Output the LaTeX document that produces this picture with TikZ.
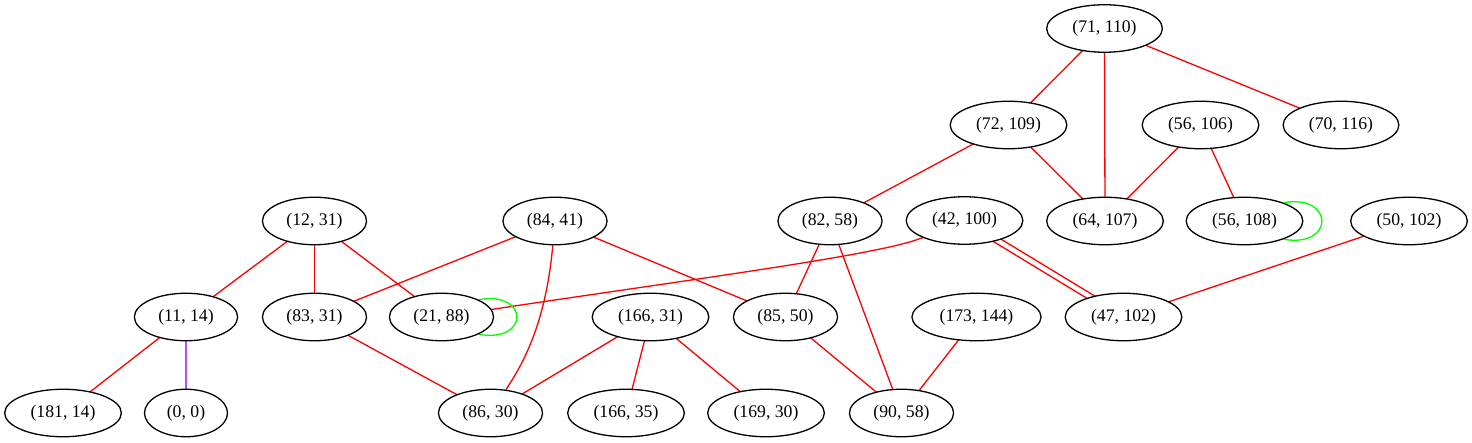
\documentclass[tikz,border=0pt]{standalone}
\usepackage{fontspec}
\setmainfont{Liberation Serif}
\usetikzlibrary{shapes.geometric,calc,backgrounds}
\definecolor{edgered}{HTML}{FF0000}
\definecolor{loopgreen}{HTML}{00FF00}
\definecolor{edgepurple}{HTML}{B050F0}
\tikzset{
  gnode/.style={ellipse, draw=black, line width=1.3pt, fill=white,
    inner xsep=8.8pt, inner ysep=0pt, minimum height=47.5pt, minimum width=83pt,
    font=\fontsize{17.7}{20}\selectfont},
  redge/.style={draw=edgered, line width=1.3pt},
  gloop/.style={draw=loopgreen, line width=1.3pt},
  pedge/.style={draw=edgepurple, line width=1.3pt}
}
\begin{document}
\begin{tikzpicture}[x=1pt,y=-1pt]
\useasboundingbox (0,0) rectangle (1472,443);
\node[gnode] (n71110) at (1104.5,28.5) {(71, 110)};
\node[gnode] (n72109) at (1008.5,125) {(72, 109)};
\node[gnode] (n56106) at (1200.5,125) {(56, 106)};
\node[gnode] (n70116) at (1341,125) {(70, 116)};
\node[gnode] (n1231) at (314.5,221) {(12, 31)};
\node[gnode] (n8441) at (555,221) {(84, 41)};
\node[gnode] (n8258) at (830,221) {(82, 58)};
\node[gnode] (n42100) at (964.5,220.5) {(42, 100)};
\node[gnode] (n64107) at (1105,221) {(64, 107)};
\node[gnode] (n56108) at (1244.5,221) {(56, 108)};
\node[gnode] (n50102) at (1409,221) {(50, 102)};
\node[gnode] (n1114) at (186,317) {(11, 14)};
\node[gnode] (n8331) at (314.5,317) {(83, 31)};
\node[gnode] (n2188) at (441.5,317) {(21, 88)};
\node[gnode] (n16631) at (650.5,317) {(166, 31)};
\node[gnode] (n8550) at (785.5,317) {(85, 50)};
\node[gnode] (n173144) at (976.5,317) {(173, 144)};
\node[gnode] (n47102) at (1123.5,317) {(47, 102)};
\node[gnode] (n18114) at (63,413) {(181, 14)};
\node[gnode] (n00) at (186,413) {(0, 0)};
\node[gnode] (n8630) at (490.5,413) {(86, 30)};
\node[gnode] (n16635) at (626,413) {(166, 35)};
\node[gnode] (n16930) at (766,413) {(169, 30)};
\node[gnode] (n9058) at (901.5,413) {(90, 58)};
\begin{scope}[on background layer]
\draw[redge] (n71110.center) -- (n72109.center);
\draw[redge] (n71110.center) -- (n64107.center);
\draw[redge] (n71110.center) -- (n70116.center);
\draw[redge] (n72109.center) -- (n8258.center);
\draw[redge] (n72109.center) -- (n64107.center);
\draw[redge] (n56106.center) -- (n64107.center);
\draw[redge] (n56106.center) -- (n56108.center);
\draw[redge] (n1231.center) -- (n1114.center);
\draw[redge] (n1231.center) -- (n8331.center);
\draw[redge] (n1231.center) -- (n2188.center);
\draw[redge] (n8441.center) -- (n8331.center);
\draw[redge] (n8441.center) -- (n8550.center);
\draw[redge] (n8441) .. controls +(-9,99) and +(35,-53) .. (n8630);
\draw[redge] (n8258.center) -- (n8550.center);
\draw[redge] (n8258.center) -- (n9058.center);
\draw[redge] (n42100) .. controls +(-84.5,34.5) and +(258.5,-39) .. (n2188);
\draw[redge] ($(n42100.center)!3pt!90:(n47102.center)$) -- ($(n47102.center)!3pt!-90:(n42100.center)$);
\draw[redge] ($(n42100.center)!3pt!-90:(n47102.center)$) -- ($(n47102.center)!3pt!90:(n42100.center)$);
\draw[redge] (n50102.center) -- (n47102.center);
\draw[redge] (n1114.center) -- (n18114.center);
\draw[pedge] (n1114.center) -- (n00.center);
\draw[redge] (n8331.center) -- (n8630.center);
\draw[redge] (n16631.center) -- (n8630.center);
\draw[redge] (n16631.center) -- (n16635.center);
\draw[redge] (n16631.center) -- (n16930.center);
\draw[redge] (n8550.center) -- (n9058.center);
\draw[redge] (n173144.center) -- (n9058.center);
\draw[gloop] (n2188.25) .. controls +(51,-9) and +(51,9) .. (n2188.-25);
\draw[gloop] (n56108.25) .. controls +(51,-9) and +(51,9) .. (n56108.-25);
\end{scope}
\end{tikzpicture}
\end{document}
